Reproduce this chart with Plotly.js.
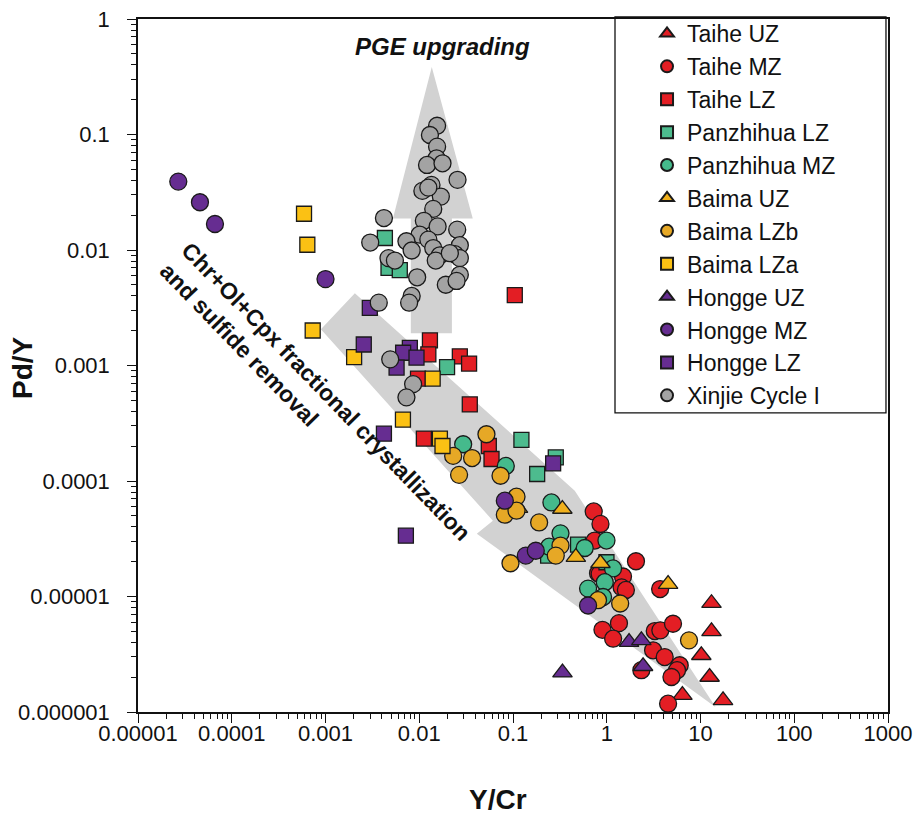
<!DOCTYPE html>
<html>
<head>
<meta charset="utf-8">
<script src="https://cdn.plot.ly/plotly-3.0.1.min.js"></script>
<style>html,body{margin:0;padding:0;background:#fff;}#chart{width:915px;height:819px;}</style>
</head>
<body>
<div id="chart"></div>
<script>
// ---- Data (Y/Cr on x, Pd/Y on y) ----
const taiheUZ_x = [13.1, 13.1, 10.2, 12.5, 6.41, 17.4];
const taiheUZ_y = [8.75e-6, 4.99e-6, 3.1e-6, 2.01e-6, 1.4e-6, 1.26e-6];

const taiheMZ_x = [0.726, 0.857, 0.745, 2.05, 0.807, 1.49, 1.44, 1.6, 3.71, 0.9, 1.35, 1.17, 3.25, 3.73, 5.09, 3.12, 4.15, 2.34, 6.0, 5.62, 4.9, 4.51, 0.84];
const taiheMZ_y = [5.45e-5, 4.25e-5, 3.05e-5, 2.02e-5, 1.59e-5, 1.49e-5, 1.2e-5, 1.14e-5, 1.16e-5, 5.15e-6, 5.88e-6, 4.31e-6, 5.02e-6, 5.09e-6, 5.81e-6, 3.42e-6, 2.99e-6, 2.3e-6, 2.54e-6, 2.3e-6, 2.01e-6, 1.18e-6, 1.57e-5];

const taiheLZ_x = [0.1045, 0.013, 0.0125, 0.0271, 0.034, 0.0097, 0.0346, 0.0112, 0.0552, 0.059];
const taiheLZ_y = [0.00406, 0.00165, 0.00125, 0.0012, 0.00104, 0.00077, 0.00046, 0.000233, 0.000201, 0.000155];

const panLZ_x = [0.0043, 0.0047, 0.0062, 0.0198, 0.123, 0.181, 0.286, 0.494, 0.237, 0.993];
const panLZ_y = [0.0127, 0.0070, 0.0067, 0.00097, 0.000227, 0.000115, 0.00016, 2.81e-5, 2.26e-5, 1.98e-5];

const panMZ_x = [0.0294, 0.0838, 0.257, 0.321, 0.243, 0.582, 0.993, 1.167, 0.953, 0.632, 0.914];
const panMZ_y = [0.000208, 0.000135, 6.52e-5, 3.52e-5, 2.7e-5, 2.63e-5, 3.05e-5, 1.75e-5, 1.33e-5, 1.17e-5, 9.9e-6];

const baimaUZ_x = [0.113, 0.336, 0.468, 0.857, 4.51];
const baimaUZ_y = [5.83e-5, 5.72e-5, 2.19e-5, 1.94e-5, 1.28e-5];

const baimaLZb_x = [0.0521, 0.023, 0.0366, 0.0266, 0.0736, 0.109, 0.0818, 0.109, 0.19, 0.321, 0.286, 0.094, 0.807, 1.39, 7.54];
const baimaLZb_y = [0.000254, 0.000165, 0.000158, 0.000113, 0.000111, 7.31e-5, 5.11e-5, 5.53e-5, 4.38e-5, 2.76e-5, 2.26e-5, 1.94e-5, 9.29e-6, 8.7e-6, 4.17e-6];

const baimaLZa_x = [0.00059, 0.00064, 0.00073, 0.00202, 0.0139, 0.0067, 0.0166, 0.0177];
const baimaLZa_y = [0.0206, 0.0111, 0.00201, 0.00118, 0.00077, 0.00034, 0.000233, 0.000201];

const hongUZ_x = [1.73, 2.34, 2.44, 0.337];
const hongUZ_y = [4.03e-6, 4.17e-6, 2.49e-6, 2.19e-6];

const hongMZ_x = [2.69e-5, 4.58e-5, 6.62e-5, 0.001, 0.0818, 0.137, 0.175, 0.632];
const hongMZ_y = [0.0391, 0.0259, 0.0168, 0.0056, 6.75e-5, 2.26e-5, 2.49e-5, 8.36e-6];

const hongLZ_x = [0.00297, 0.00256, 0.00794, 0.00673, 0.00935, 0.00573, 0.0042, 0.0072, 0.268];
const hongLZ_y = [0.00315, 0.00152, 0.00142, 0.00129, 0.00117, 0.00096, 0.000257, 3.36e-5, 0.000142];

const xinjie_x = [0.0155, 0.013, 0.0155, 0.0153, 0.0121, 0.0177, 0.0256, 0.0135, 0.0108, 0.017, 0.0141, 0.0042, 0.0112, 0.0157, 0.0254, 0.0101, 0.0125, 0.0030, 0.0073, 0.0083, 0.0141, 0.0166, 0.0150, 0.0271, 0.024, 0.0271, 0.0047, 0.0055, 0.0271, 0.0095, 0.0192, 0.025, 0.0083, 0.0078, 0.0037, 0.0049, 0.0086, 0.0073, 0.0125, 0.0212];
const xinjie_y = [0.119, 0.099, 0.0785, 0.0622, 0.0545, 0.0563, 0.0405, 0.0366, 0.0325, 0.029, 0.0227, 0.0189, 0.0179, 0.016, 0.015, 0.0136, 0.0123, 0.0116, 0.0119, 0.0099, 0.0104, 0.009, 0.0081, 0.011, 0.0092, 0.0085, 0.0085, 0.0081, 0.0061, 0.0058, 0.005, 0.0054, 0.004, 0.0035, 0.0035, 0.00113, 0.00069, 0.00053, 0.0347, 0.0094];

// Trend arrows (outline vertices in data units)
const pgeArrow_x = [0.0136, 0.0372, 0.0223, 0.0223, 0.00813, 0.00813, 0.00524, 0.0136];
const pgeArrow_y = [0.385, 0.01875, 0.01875, 0.0019, 0.0019, 0.01875, 0.01875, 0.385];
const fracArrow_x = [0.000893, 0.002056, 0.456, 14.52, 0.0411, 0.061, 0.000893];
const fracArrow_y = [0.00206, 0.00422, 8.23e-5, 1.10e-6, 3.50e-5, 4.53e-5, 0.00206];

// Axis ticks
const xTickVals = [1e-5, 1e-4, 1e-3, 1e-2, 1e-1, 1, 10, 100, 1000];
const xTickText = ['0.00001', '0.0001', '0.001', '0.01', '0.1', '1', '10', '100', '1000'];
const yTickVals = [1e-6, 1e-5, 1e-4, 1e-3, 1e-2, 1e-1, 1];
const yTickText = ['0.000001', '0.00001', '0.0001', '0.001', '0.01', '0.1', '1'];

function minorTicks(lo, hi) {
  const out = [];
  for (let e = lo; e < hi; e++) for (let m = 2; m <= 9; m++) out.push(m * Math.pow(10, e));
  return out;
}

const RED = '#E31E24', GREEN = '#45BA8C', GREEN_SQ = '#4DBB8E', PURPLE = '#662D91', GREY = '#A3A3A3';
const GOLD_UZ = '#F0B01C', GOLD_LZB = '#E6A826', GOLD_LZA = '#FBC114';
const ARROW = 'rgb(210,210,210)';
const EDGE = {color: '#1a1a1a', width: 1.3};

function series(name, x, y, symbol, color, size) {
  return {
    type: 'scatter', mode: 'markers', name: name, x: x, y: y,
    marker: {symbol: symbol, color: color, size: size, line: EDGE},
    hoverinfo: 'x+y+name'
  };
}

const traces = [
  {type: 'scatter', mode: 'lines', x: fracArrow_x, y: fracArrow_y, fill: 'toself', fillcolor: ARROW,
   line: {width: 0, color: ARROW}, showlegend: false, hoverinfo: 'skip'},
  {type: 'scatter', mode: 'lines', x: pgeArrow_x, y: pgeArrow_y, fill: 'toself', fillcolor: ARROW,
   line: {width: 0, color: ARROW}, showlegend: false, hoverinfo: 'skip'},
  series('Taihe UZ', taiheUZ_x, taiheUZ_y, 'triangle-up', RED, 17),
  series('Taihe MZ', taiheMZ_x, taiheMZ_y, 'circle', RED, 17),
  series('Taihe LZ', taiheLZ_x, taiheLZ_y, 'square', RED, 15),
  series('Panzhihua LZ', panLZ_x, panLZ_y, 'square', GREEN_SQ, 15),
  series('Panzhihua MZ', panMZ_x, panMZ_y, 'circle', GREEN, 17),
  series('Baima UZ', baimaUZ_x, baimaUZ_y, 'triangle-up', GOLD_UZ, 17),
  series('Baima LZb', baimaLZb_x, baimaLZb_y, 'circle', GOLD_LZB, 17),
  series('Baima LZa', baimaLZa_x, baimaLZa_y, 'square', GOLD_LZA, 15),
  series('Hongge UZ', hongUZ_x, hongUZ_y, 'triangle-up', PURPLE, 17),
  series('Hongge MZ', hongMZ_x, hongMZ_y, 'circle', PURPLE, 17),
  series('Hongge LZ', hongLZ_x, hongLZ_y, 'square', PURPLE, 15),
  series('Xinjie Cycle I', xinjie_x, xinjie_y, 'circle', GREY, 17)
];

const FONT = 'Arial, "Liberation Sans", sans-serif';

const axisCommon = {
  type: 'log', showgrid: false, zeroline: false,
  showline: true, linecolor: '#111', linewidth: 1.5, mirror: true,
  ticks: 'outside', ticklen: 9, tickwidth: 1.3, tickcolor: '#111',
  tickfont: {family: FONT, size: 22, color: '#111'},
  tickmode: 'array'
};

const layout = {
  width: 915, height: 819,
  margin: {l: 138, r: 27, t: 17, b: 107},
  paper_bgcolor: '#fff', plot_bgcolor: '#fff',
  font: {family: FONT, color: '#111'},
  xaxis: Object.assign({}, axisCommon, {
    range: [-5, 3], tickvals: xTickVals, ticktext: xTickText, ticklabelstandoff: -8,
    minor: {ticks: 'outside', ticklen: 5, tickwidth: 1, tickcolor: '#111', tickmode: 'array', tickvals: minorTicks(-5, 3), showgrid: false}
  }),
  yaxis: Object.assign({}, axisCommon, {
    range: [-6, 0], tickvals: yTickVals, ticktext: yTickText, ticklabelstandoff: 13,
    minor: {ticks: 'outside', ticklen: 5, tickwidth: 1, tickcolor: '#111', tickmode: 'array', tickvals: minorTicks(-6, 0), showgrid: false}
  }),
  showlegend: true,
  legend: {
    x: 0.6787, xanchor: 'left', y: 1.0101, yanchor: 'top',
    bgcolor: 'rgba(0,0,0,0)', borderwidth: 0,
    font: {family: FONT, size: 23, color: '#111'},
    itemsizing: 'constant', traceorder: 'normal'
  },
  shapes: [
    {type: 'rect', xref: 'paper', yref: 'paper', x0: 0.636, x1: 0.9973, y0: 0.4317, y1: 1.0029,
     line: {color: '#111', width: 1.3}, fillcolor: 'rgba(0,0,0,0)', layer: 'above'}
  ],
  annotations: [
    // axis titles
    {xref: 'paper', yref: 'paper', x: 0.48, y: -0.1266, text: '<b>Y/Cr</b>', showarrow: false,
     font: {family: FONT, size: 28, color: '#111'}, xanchor: 'center', yanchor: 'middle'},
    {xref: 'paper', yref: 'paper', x: -0.1547, y: 0.4978, text: '<b>Pd/Y</b>', showarrow: false, textangle: -90,
     font: {family: FONT, size: 28, color: '#111'}, xanchor: 'center', yanchor: 'middle'},
    // in-plot labels
    {xref: 'x', yref: 'y', x: -1.748, y: -0.242, text: '<b><i>PGE upgrading</i></b>', showarrow: false,
     font: {family: FONT, size: 24, color: '#111'}, xanchor: 'center', yanchor: 'middle'},
    {xref: 'x', yref: 'y', x: -3.11, y: -3.32, text: '<b>Chr+Ol+Cpx fractional crystallization<br>and sulfide removal</b>',
     showarrow: false, align: 'left', textangle: 46, font: {family: FONT, size: 23, color: '#111'},
     xanchor: 'center', yanchor: 'middle'}
  ]
};

Plotly.newPlot('chart', traces, layout, {displayModeBar: false, staticPlot: false});
</script>
</body>
</html>
